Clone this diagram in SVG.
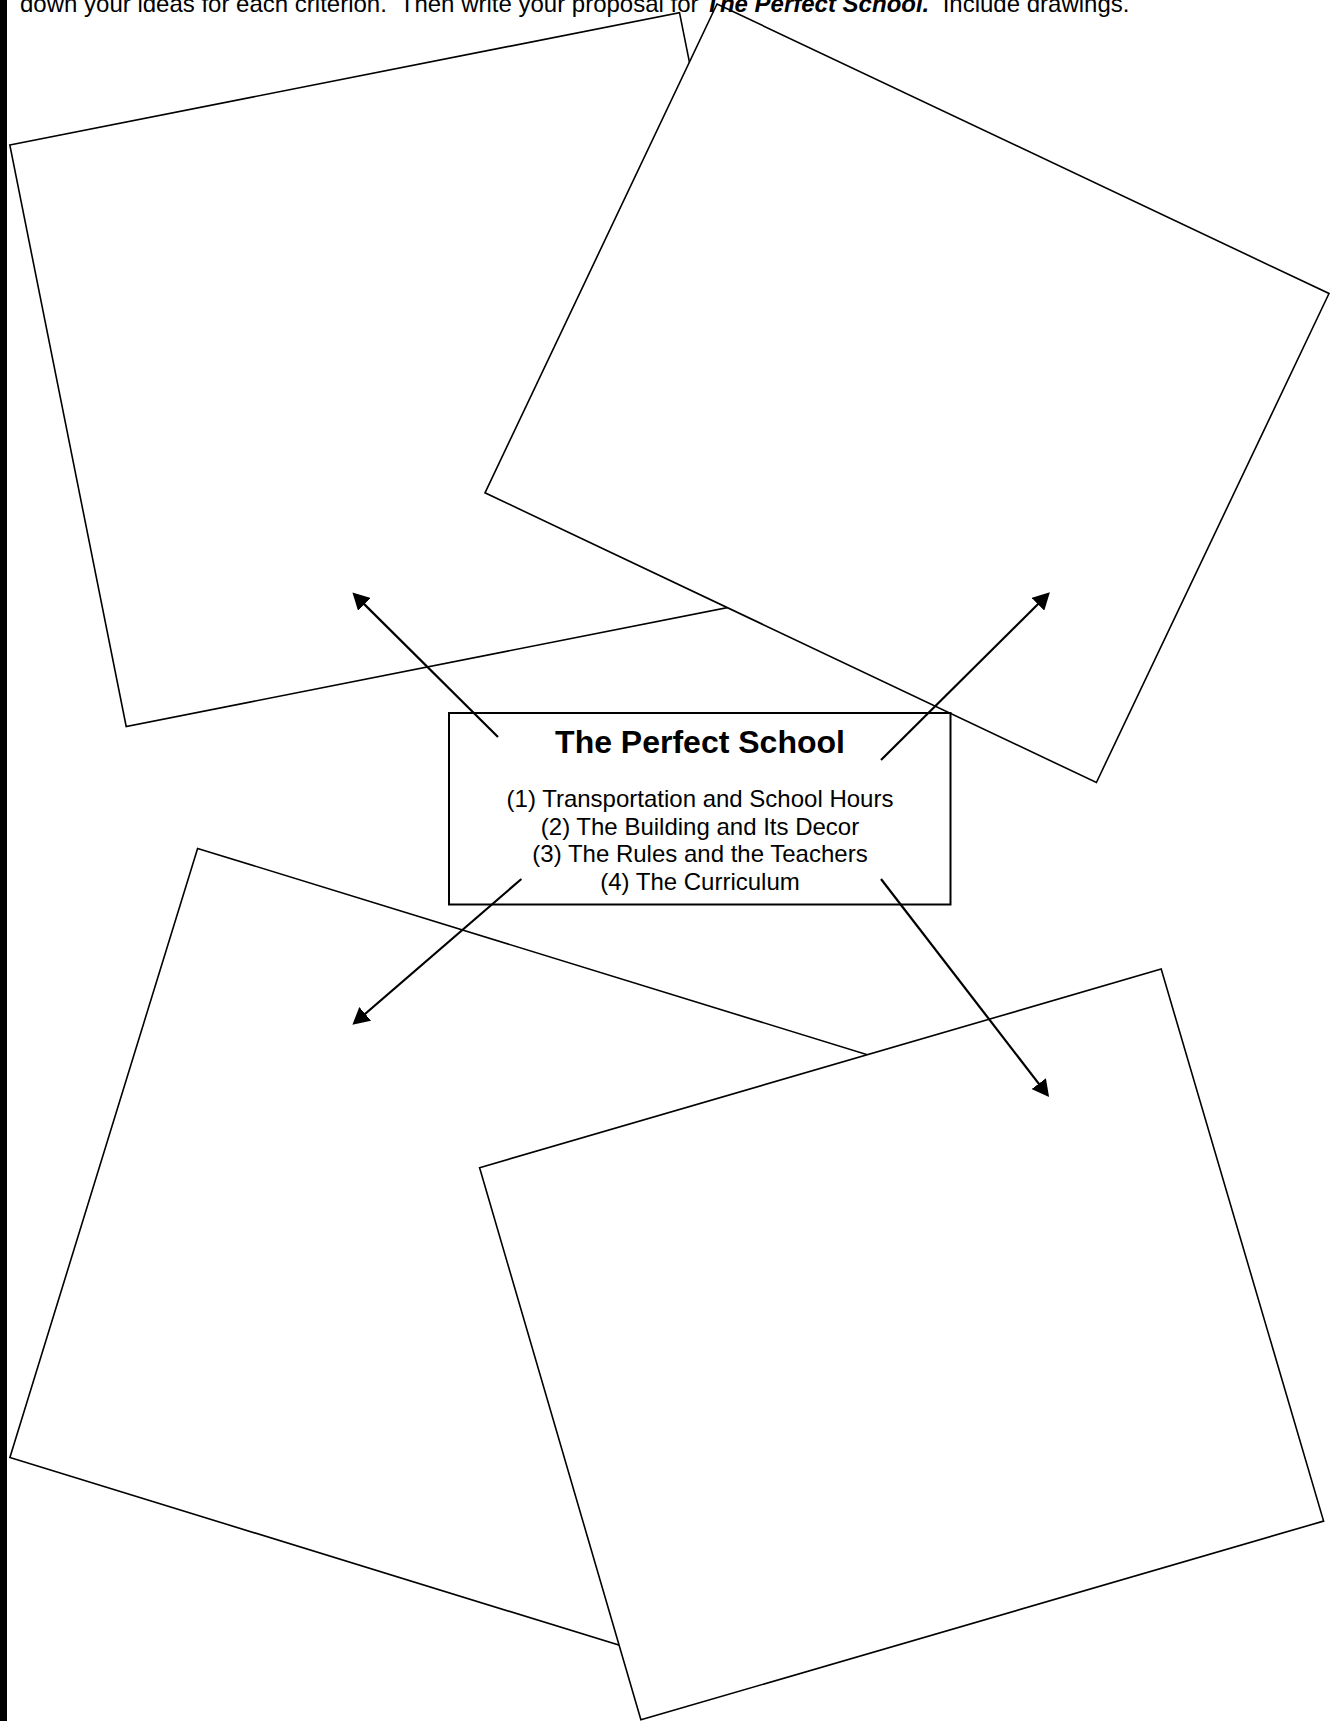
<svg xmlns="http://www.w3.org/2000/svg" width="1340" height="1721" viewBox="0 0 1340 1721">
  <style>
    .box { fill: #ffffff; stroke: #000000; stroke-width: 1.6; stroke-linejoin: miter; }
    .center { fill: #ffffff; stroke: #000000; stroke-width: 2; }
    .arrow { stroke: #000000; stroke-width: 2.2; fill: none; marker-end: url(#head); }
    .hdr { font-family: "Liberation Sans", Arial, sans-serif; font-size: 24px; fill: #000000; }
    .title { font-family: "Liberation Sans", Arial, sans-serif; font-size: 32px; font-weight: bold; fill: #000000; }
    .item { font-family: "Liberation Sans", Arial, sans-serif; font-size: 24px; fill: #000000; }
  </style>
  <defs>
    <marker id="head" markerUnits="userSpaceOnUse" markerWidth="18" markerHeight="18" viewBox="0 0 16 16" refX="5" refY="8" orient="auto">
      <path d="M0,0 L15,8 L0,16 z" fill="#000000"/>
    </marker>
  </defs>
  <rect x="0" y="0" width="1340" height="1721" fill="#ffffff"/>
  <rect id="left-bar" x="0" y="0" width="7" height="1721" fill="#000000"/>

  <g id="box-top-left">
    <polygon class="box" points="9.8,145 679.5,12.7 796,594 126.2,726.5"/>
  </g>
  <g id="box-top-right">
    <polygon class="box" points="717,4 1329,293.5 1096.4,782.5 485,492.8"/>
  </g>
  <g id="box-bottom-left">
    <polygon class="box" points="197.6,848.4 910.4,1068 722.7,1677.1 9.9,1457.5"/>
  </g>
  <g id="box-bottom-right">
    <polygon class="box" points="479.6,1167.7 1161.2,969.1 1323.6,1521.1 640.9,1719.8"/>
  </g>

  <g id="center">
    <rect class="center" x="449" y="713" width="501.5" height="191.5"/>
    <text class="title" x="700" y="753" text-anchor="middle">The Perfect School</text>
    <text class="item" x="700" y="807" text-anchor="middle">(1) Transportation and School Hours</text>
    <text class="item" x="700" y="834.6" text-anchor="middle">(2) The Building and Its Decor</text>
    <text class="item" x="700" y="862.2" text-anchor="middle">(3) The Rules and the Teachers</text>
    <text class="item" x="700" y="889.8" text-anchor="middle">(4) The Curriculum</text>
  </g>

  <g id="connectors">
    <line class="arrow" x1="498" y1="737" x2="360.4" y2="600.35"/>
    <line class="arrow" x1="881" y1="760" x2="1041.9" y2="600.3"/>
    <line class="arrow" x1="521.4" y1="879" x2="360.9" y2="1017.5"/>
    <line class="arrow" x1="881" y1="879" x2="1042.2" y2="1088.1"/>
  </g>

  <g id="header">
    <text class="hdr" x="20" y="12" xml:space="preserve">down your ideas for each criterion.  Then write your proposal for <tspan font-weight="bold" font-style="italic">The Perfect School.</tspan>  Include drawings.</text>
  </g>
</svg>
